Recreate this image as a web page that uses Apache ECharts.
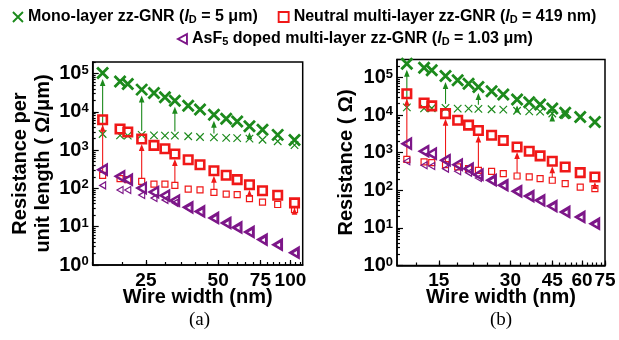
<!DOCTYPE html>
<html>
<head>
<meta charset="utf-8">
<script src="https://cdn.jsdelivr.net/npm/echarts@6/dist/echarts.min.js"></script>
<style>
  html, body { margin: 0; padding: 0; background: #fff; }
  #chart { width: 619px; height: 340px; }
</style>
</head>
<body>
<div id="chart"></div>
<script>
// ---- data ----------------------------------------------------------
// (a) resistance per unit length (Ω/μm) against wire width (nm)
const widthA = [16.5, 19.5, 21, 24, 27, 30, 33, 37.5, 42, 48, 54, 60, 67.5, 76.5, 88.5, 104];
const monoA_long  = [103000, 62000, 53000, 38000, 31000, 24000, 19500, 14500, 11500, 8400, 6600, 5600, 4200, 3400, 2500, 1850];
const monoA_short = [2630, 2430, 2380, 2500, 2430, 2380, 2400, 2300, 2200, 2150, 2080, 2050, 2000, 1870, 1700, 1350];
const neutA_long  = [6200, 3560, 2970, 1950, 1330, 1090, 790, 560, 415, 290, 220, 170, 125, 87, 66, 42];
const neutA_short = [220, 180, 170, 153, 130, 130, 120, 96, 92, 79, 71, 69, 54, 44, 38, 28];
const asfA_long   = [308, 207, 169, 102, 80, 65, 48, 32, 25, 17, 12.5, 9.6, 7.3, 4.6, 3.4, 2.1];
const asfA_short  = [120, 91, 91, 67, 56, 50, 42, 30.5, 24, 16.3, 12, 9.2, 7, 4.4, 3.3, 2.0];

// (b) total resistance (Ω) against wire width (nm)
const widthB = [11, 13, 14, 16, 18, 20, 22, 25, 28, 32, 36, 40, 45, 51, 59, 68];
const monoB_long  = [230000, 180000, 155000, 110000, 84000, 68000, 56000, 43000, 35000, 26000, 22000, 19000, 15000, 11500, 8900, 6500];
const monoB_short = [16000, 15000, 15200, 15500, 14800, 14800, 14600, 14300, 13900, 13000, 12500, 12300, 11000, 9900, 8500, 6400];
const neutB_long  = [37000, 21000, 17500, 10900, 7300, 5400, 3900, 2900, 2100, 1420, 1090, 820, 590, 417, 294, 226];
const neutB_short = [667, 566, 542, 480, 417, 375, 340, 320, 276, 240, 226, 204, 185, 150, 122, 110];
const asfB_long   = [1730, 1090, 940, 628, 480, 375, 260, 185, 136, 94, 70, 54, 38, 26.5, 19.5, 12.9];
const asfB_short  = [590, 462, 443, 375, 320, 294, 212, 178, 130, 90, 67, 52, 36.5, 25.5, 18.7, 12.4];

// points where the short-wire value is linked to the long-wire value by an arrow
const arrowIdxMono = [0, 3, 6, 9, 12];
const arrowIdxNeut = [0, 3, 6, 9, 12, 15];

// axis ticks and labels
const xLabelsA = [25, 50, 75, 100];
const xTicksA  = [15, 20, 25, 30, 35, 40, 45, 50, 55, 60, 65, 70, 75, 80, 85, 90, 95, 100, 105, 110];
const xLabelsB = [15, 30, 45, 60, 75];
const xTicksB  = [12, 15, 18, 21, 24, 27, 30, 33, 36, 39, 42, 45, 48, 51, 54, 57, 60, 63, 66, 69, 72, 75];
const yLabels  = [1, 10, 100, 1000, 10000, 100000];
const yMinor   = [2, 3, 4, 5, 6, 7, 8, 9, 20, 30, 40, 50, 60, 70, 80, 90,
                  200, 300, 400, 500, 600, 700, 800, 900, 2000, 3000, 4000, 5000, 6000, 7000, 8000, 9000,
                  20000, 30000, 40000, 50000, 60000, 70000, 80000, 90000, 200000, 300000];

// ---- styling ------------------------------------------------------
const FONT = 'Liberation Sans, Arial, sans-serif';
const GREEN = '#1c8a1c';
const RED = '#f01818';
const PURPLE = '#7c1688';
const CROSS = 'path://M0,0L10,10M0,10L10,0';
const TRI = 'path://M10,0L0,5.5L10,11Z';

const MONO = 'Mono-layer zz-GNR (lD = 5 μm)';
const NEUT = 'Neutral multi-layer zz-GNR (lD = 419 nm)';
const ASF  = 'AsF5 doped multi-layer zz-GNR (lD = 1.03 μm)';
const legendText = {};
legendText[MONO] = 'Mono-layer zz-GNR ({i|l}{d|D} = 5 μm)';
legendText[NEUT] = 'Neutral multi-layer zz-GNR ({i|l}{d|D} = 419 nm)';
legendText[ASF]  = 'AsF{d|5} doped multi-layer zz-GNR ({i|l}{d|D} = 1.03 μm)';

const tickLine = { color: '#000', width: 1.2 };

function xAxesFor(gi, min, max, labels, ticks) {
  return [
    {
      type: 'log', gridIndex: gi, min: min, max: max, position: 'bottom',
      axisLine: { lineStyle: { color: '#000', width: 1.5 } },
      splitLine: { show: false },
      axisTick: { inside: true, length: 3, customValues: ticks, lineStyle: tickLine },
      axisLabel: {
        customValues: labels, margin: 6, color: '#000',
        fontFamily: FONT, fontSize: 19, fontWeight: 'bold',
        formatter: v => String(Math.round(v))
      },
      name: 'Wire width (nm)', nameLocation: 'middle', nameGap: 22, nameMoveOverlap: false,
      nameTextStyle: { fontFamily: FONT, fontSize: 20, fontWeight: 'bold', color: '#000' }
    },
    {
      type: 'log', gridIndex: gi, min: min, max: max, position: 'bottom',
      axisLine: { show: false }, splitLine: { show: false },
      axisTick: { inside: true, length: 5, customValues: labels, lineStyle: tickLine },
      axisLabel: { show: false }
    }
  ];
}

function yAxesFor(gi, max, title, gap) {
  return [
    {
      type: 'log', gridIndex: gi, min: 1, max: max, position: 'left',
      axisLine: { lineStyle: { color: '#000', width: 1.5 } },
      splitLine: { show: false },
      axisTick: { inside: true, length: 6, customValues: yLabels, lineStyle: tickLine },
      axisLabel: {
        customValues: yLabels, margin: 4, color: '#000',
        fontFamily: FONT, fontWeight: 'bold',
        formatter: v => '{b|10}{s|' + Math.round(Math.log10(v)) + '}',
        rich: {
          b: { fontFamily: FONT, fontSize: 20, fontWeight: 'bold', color: '#000' },
          s: { fontFamily: FONT, fontSize: 13, fontWeight: 'bold', color: '#000', verticalAlign: 'top', padding: [0, 0, 4, 0] }
        }
      },
      name: title, nameLocation: 'middle', nameGap: gap, nameMoveOverlap: false,
      nameTextStyle: { fontFamily: FONT, fontSize: 20, fontWeight: 'bold', color: '#000', lineHeight: 23 }
    },
    {
      type: 'log', gridIndex: gi, min: 1, max: max, position: 'left',
      axisLine: { show: false }, splitLine: { show: false },
      axisTick: { inside: true, length: 3, customValues: yMinor.filter(v => v <= max), lineStyle: tickLine },
      axisLabel: { show: false }
    }
  ];
}

function pairs(xs, ys) { return xs.map((x, i) => [x, ys[i]]); }

function scatter(name, xi, yi, xs, ys, symbol, size, color, bw, z) {
  return {
    type: 'scatter', name: name, xAxisIndex: xi, yAxisIndex: yi,
    data: pairs(xs, ys), symbol: symbol, symbolSize: size, z: z, silent: true,
    itemStyle: { color: 'transparent', borderColor: color, borderWidth: bw, opacity: 1 }
  };
}

// arrow from the short-wire marker up to the long-wire marker
function arrows(xi, yi, xs, shortV, longV, idx, color, headGap, tailGap) {
  return {
    type: 'custom', xAxisIndex: xi, yAxisIndex: yi, z: 3, silent: true,
    data: idx.map(i => [xs[i], shortV[i], longV[i]]),
    encode: { x: 0, y: [1, 2] },
    renderItem: function (params, api) {
      const lo = api.coord([api.value(0), api.value(1)]);
      const hi = api.coord([api.value(0), api.value(2)]);
      const x = lo[0];
      const tip = hi[1] + headGap;
      const base = lo[1] - tailGap;
      return {
        type: 'group',
        children: [
          { type: 'line', shape: { x1: x, y1: base, x2: x, y2: tip + 5 },
            style: { stroke: color, lineWidth: 1.1 } },
          { type: 'polygon', shape: { points: [[x, tip], [x - 2.8, tip + 7], [x + 2.8, tip + 7]] },
            style: { fill: color } }
        ]
      };
    }
  };
}

function panelSeries(xi, yi, w, monoL, monoS, neutL, neutS, asfL, asfS) {
  return [
    scatter(MONO, xi, yi, w, monoS, CROSS, 7.5, GREEN, 1.2, 2),
    scatter(NEUT, xi, yi, w, neutS, 'rect', 6, RED, 1.2, 2),
    scatter(ASF,  xi, yi, w, asfS, TRI, [6, 7], PURPLE, 1.2, 2),
    arrows(xi, yi, w, monoS, monoL, arrowIdxMono, GREEN, 6, 4),
    arrows(xi, yi, w, neutS, neutL, arrowIdxNeut, RED, 5, 3),
    scatter(MONO, xi, yi, w, monoL, CROSS, 11, GREEN, 2.8, 4),
    scatter(NEUT, xi, yi, w, neutL, 'rect', 8.5, RED, 2.6, 4),
    scatter(ASF,  xi, yi, w, asfL, TRI, [8.5, 10], PURPLE, 2.4, 4)
  ];
}

const legendTextStyle = {
  fontFamily: FONT, fontSize: 16, fontWeight: 'bold', color: '#000',
  rich: {
    i: { fontFamily: FONT, fontSize: 16, fontWeight: 'bold', fontStyle: 'italic', color: '#000' },
    d: { fontFamily: FONT, fontSize: 11, fontWeight: 'bold', color: '#000', verticalAlign: 'bottom' }
  }
};

const option = {
  animation: false,
  backgroundColor: '#fff',
  legend: [
    {
      left: 7, top: 4, itemWidth: 10, itemHeight: 10, itemGap: 20, selectedMode: false,
      formatter: n => legendText[n], textStyle: legendTextStyle,
      data: [
        { name: MONO, icon: CROSS, itemStyle: { color: 'transparent', borderColor: GREEN, borderWidth: 1.9 } },
        { name: NEUT, icon: 'rect', itemStyle: { color: 'transparent', borderColor: RED, borderWidth: 1.9 } }
      ]
    },
    {
      left: 172, top: 26, itemWidth: 9, itemHeight: 10, selectedMode: false,
      formatter: n => legendText[n], textStyle: legendTextStyle,
      data: [
        { name: ASF, icon: TRI, itemStyle: { color: 'transparent', borderColor: PURPLE, borderWidth: 1.9 } }
      ]
    }
  ],
  grid: [
    { left: 92.7, top: 62, width: 210, height: 203, show: true, borderColor: '#000', borderWidth: 1.5, backgroundColor: 'transparent' },
    { left: 397, top: 59.5, width: 208, height: 206, show: true, borderColor: '#000', borderWidth: 1.5, backgroundColor: 'transparent' }
  ],
  xAxis: [].concat(
    xAxesFor(0, 15, 112.5, xLabelsA, xTicksA),
    xAxesFor(1, 10, 75, xLabelsB, xTicksB)
  ),
  yAxis: [].concat(
    yAxesFor(0, 200000, 'Resistance per\nunit length ( Ω/μm)', 38),
    yAxesFor(1, 300000, 'Resistance ( Ω)', 39)
  ),
  graphic: [
    { type: 'text', left: 189, top: 311, style: { text: '(a)', font: '19px "Liberation Serif", serif', fill: '#000' } },
    { type: 'text', left: 490, top: 311, style: { text: '(b)', font: '19px "Liberation Serif", serif', fill: '#000' } }
  ],
  series: [].concat(
    panelSeries(0, 0, widthA, monoA_long, monoA_short, neutA_long, neutA_short, asfA_long, asfA_short),
    panelSeries(2, 2, widthB, monoB_long, monoB_short, neutB_long, neutB_short, asfB_long, asfB_short)
  )
};

const chart = echarts.init(document.getElementById('chart'), null, { renderer: 'canvas' });
chart.setOption(option);
</script>
</body>
</html>
